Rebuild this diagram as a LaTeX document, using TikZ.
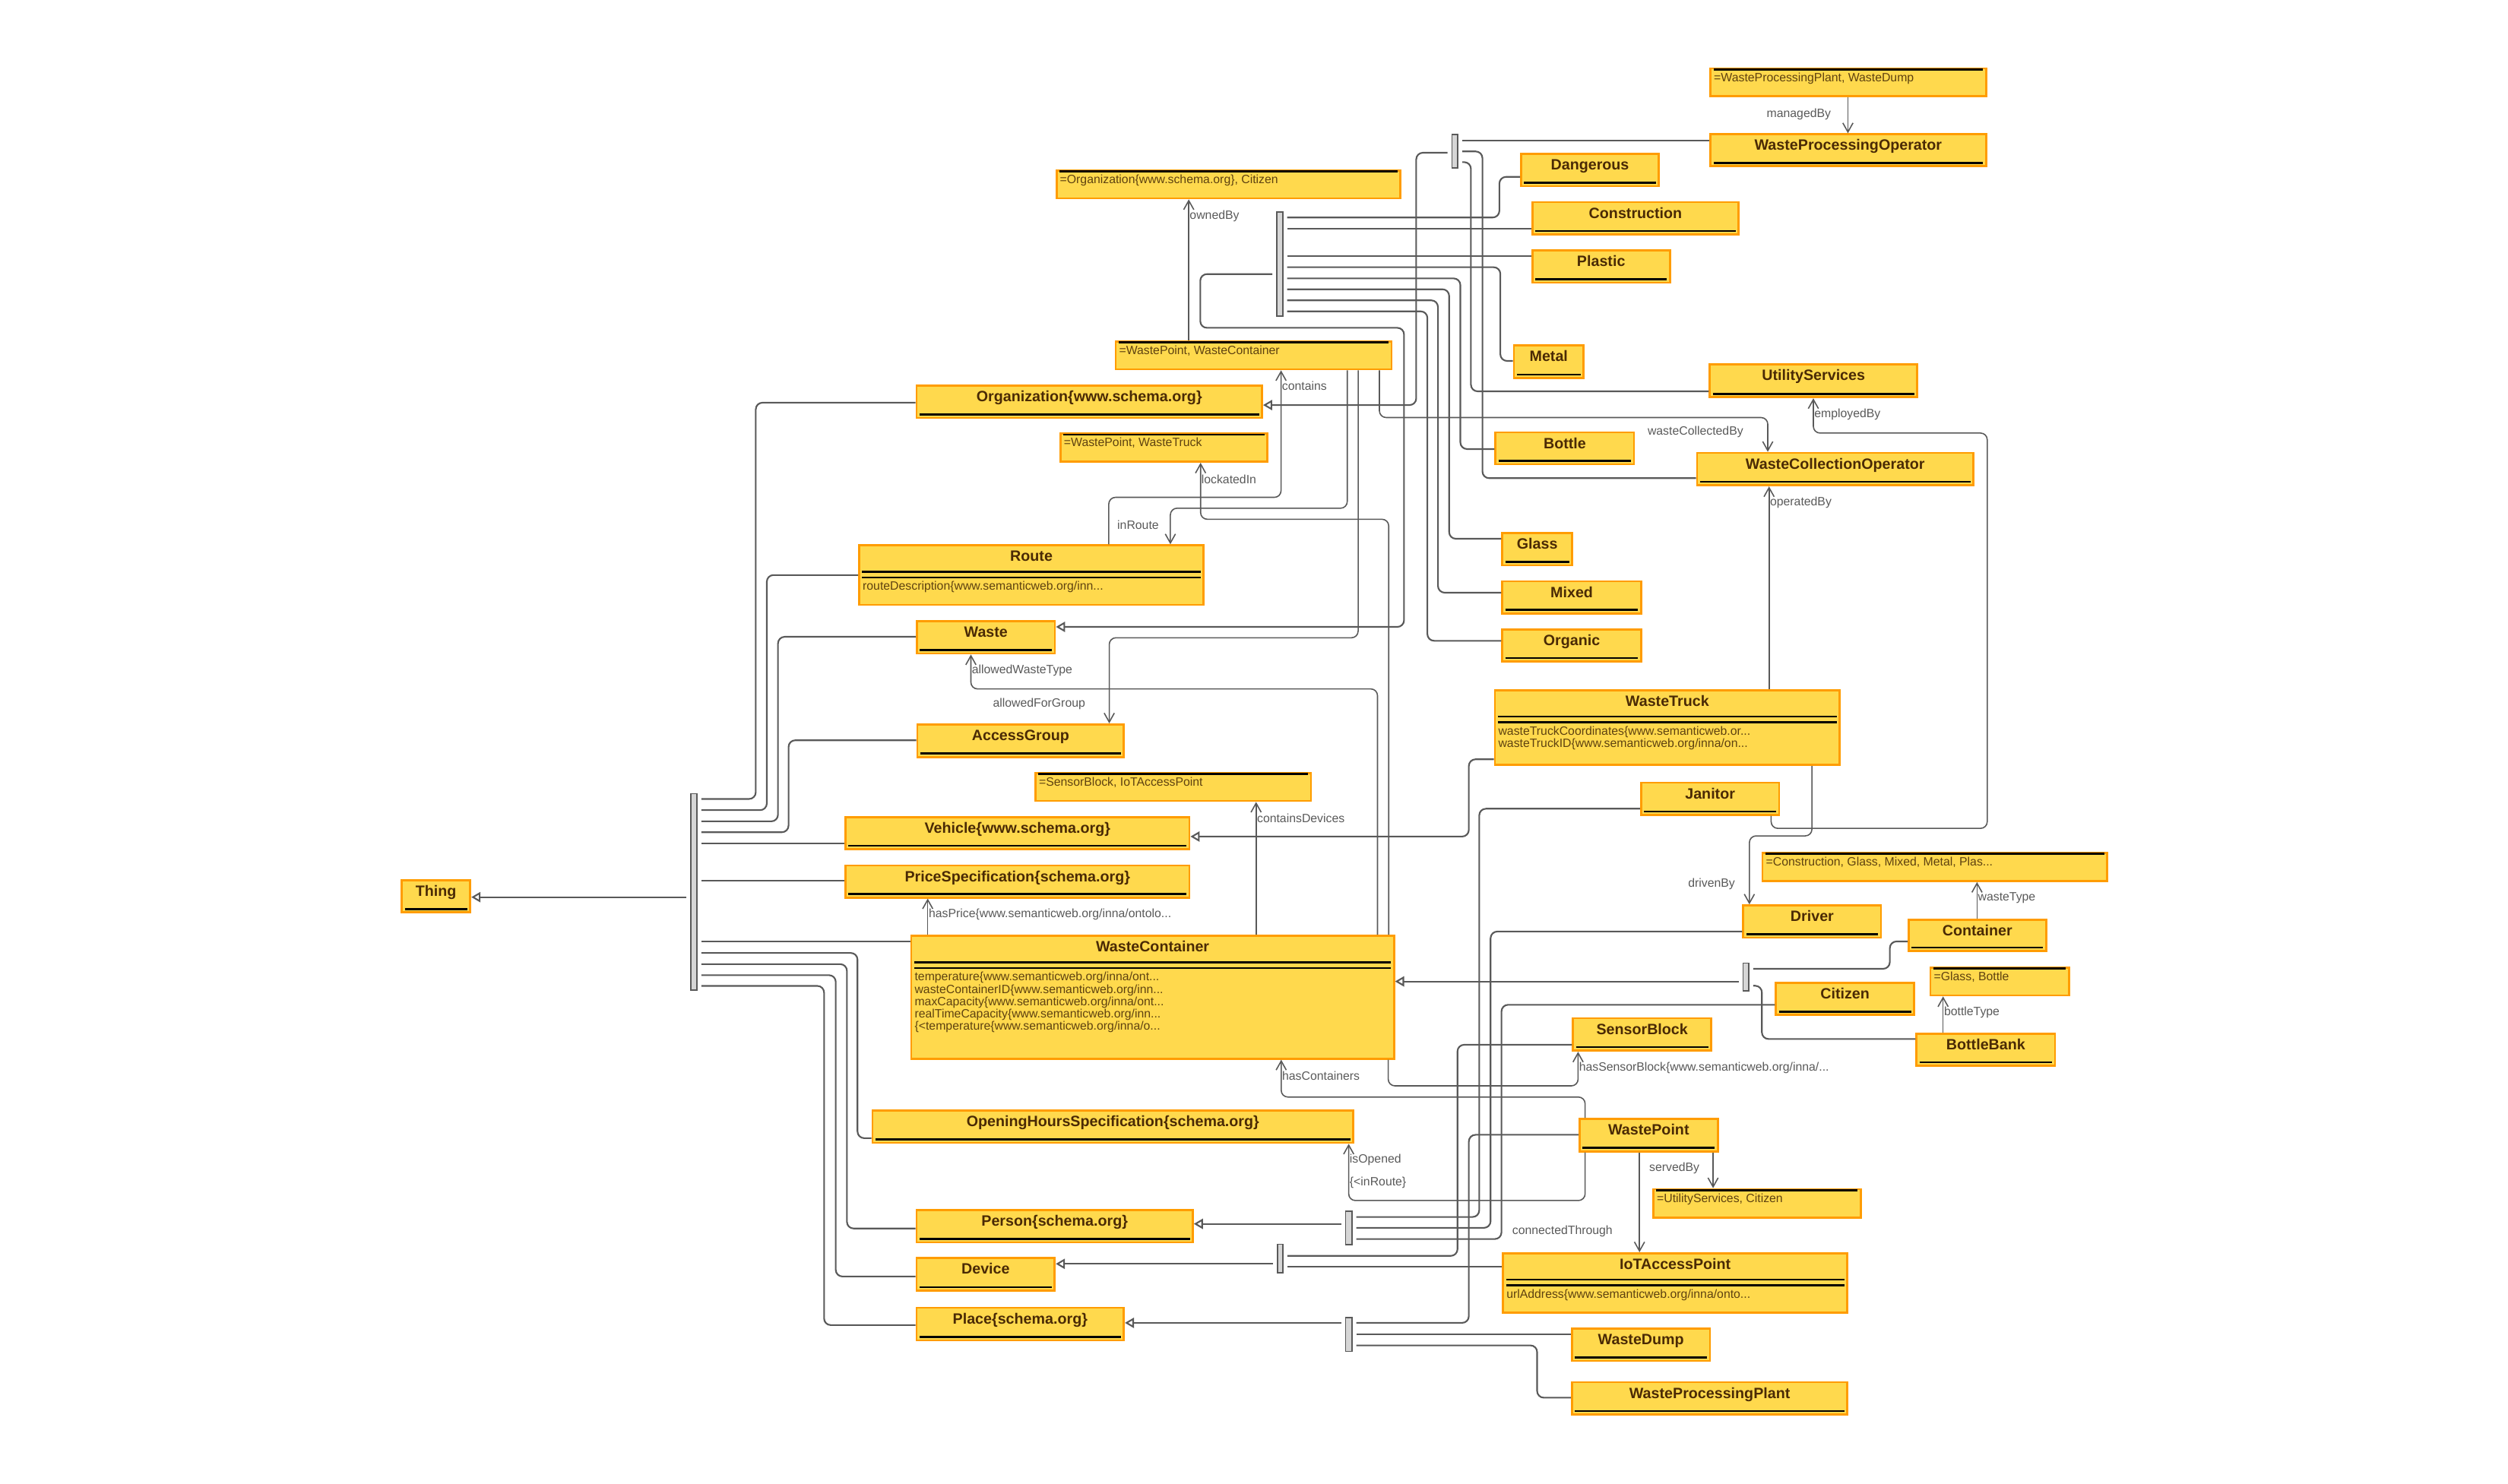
\documentclass[tikz,border=0pt]{standalone}
\usepackage{fontspec}
\setmainfont{Liberation Sans}
\usetikzlibrary{arrows.meta,calc,fit}
\definecolor{boxfill}{HTML}{FFD94D}
\definecolor{boxdraw}{HTML}{FF9C00}
\definecolor{namebrown}{HTML}{4A2A05}
\definecolor{attrbrown}{HTML}{5E4210}
\definecolor{linegray}{HTML}{595959}
\definecolor{bargray}{HTML}{D6D6D6}

\tikzset{
  clsbox/.style={draw=boxdraw, fill=boxfill, line width=0.8pt, inner sep=0pt},
  clsname/.style={font=\fontsize{5.6}{6}\selectfont\bfseries, text=namebrown, inner sep=0pt, anchor=base},
  attr/.style={font=\fontsize{4.5}{4.5}\selectfont, text=attrbrown, inner sep=0pt, anchor=base west},
  sepline/.style={draw=black, line width=0.7pt},
  genbar/.style={draw=linegray, fill=bargray, line width=0.5pt, inner sep=0pt},
  gen/.style={draw=linegray, line width=0.6pt, rounded corners=2.5pt, shorten <=0.05cm},
  isa/.style={gen, -{Triangle[length=3.4pt,width=3.8pt,fill=white]}},
  prop/.style={draw=linegray, line width=0.45pt, rounded corners=2.5pt, -{Straight Barb[length=3.4pt,width=3.8pt]}},
  lbl/.style={font=\fontsize{4.5}{4.5}\selectfont, text=linegray, inner sep=0pt},
}

% class with name only
\newcommand{\simpleclass}[4]{%
  \node[clsbox, fit={#2 #3}] (#1) {};
  \node[clsname] (#1-name) at ($(#1.north)+(0,10.7)$) {#4};
  \draw[sepline] ($(#1.south west)+(2.5,-2.8)$) -- ($(#1.south east)+(-2.5,-2.8)$);
}
% class with attributes
\newcommand{\attrclass}[4]{%
  \node[clsbox, fit={#2 #3}] (#1) {};
  \node[clsname] (#1-name) at ($(#1.north)+(0,10.7)$) {#4};
  \draw[sepline] ($(#1.north west)+(2.5,17.2)$) -- ($(#1.north east)+(-2.5,17.2)$);
  \draw[sepline] ($(#1.north west)+(2.5,20.7)$) -- ($(#1.north east)+(-2.5,20.7)$);
}
\newcommand{\attrline}[3]{%
  \node[attr] (#1-a#2) at ($(#1.north west)+(2.5,{28.8+7.7*(#2-1)})$) {#3};
}
% anonymous domain/range box
\newcommand{\rangebox}[4]{%
  \node[clsbox, fit={#2 #3}] (#1) {};
  \draw[sepline] ($(#1.north west)+(2.5,1.3)$) -- ($(#1.north east)+(-2.5,1.3)$);
  \node[attr] (#1-text) at ($(#1.north west)+(2.5,8.8)$) {#4};
}

\begin{document}
\begin{tikzpicture}[x=0.021046cm, y=-0.021046cm]
  \useasboundingbox (0,0) rectangle (1568,927.5);

  % boxes
  \rangebox{rngWPO}{(1069.4,42.8)}{(1241.6,60.2)}{=WasteProcessingPlant, WasteDump}
  \simpleclass{wpo}{(1069.4,84)}{(1241.6,104)}{WasteProcessingOperator}
  \rangebox{rngOrgCit}{(660.5,106.6)}{(875.6,124)}{=Organization\{www.schema.org\}, Citizen}
  \simpleclass{dangerous}{(951,96.3)}{(1037,116.4)}{Dangerous}
  \simpleclass{construction}{(958,126.4)}{(1087,146.5)}{Construction}
  \simpleclass{plastic}{(958,156.5)}{(1044,176.8)}{Plastic}
  \simpleclass{metal}{(946.5,215.8)}{(990,236.3)}{Metal}
  \simpleclass{utility}{(1069,228)}{(1198.6,248.4)}{UtilityServices}
  \rangebox{domWPWC}{(697.5,213.5)}{(870,230.9)}{=WastePoint, WasteContainer}
  \simpleclass{organization}{(573,241)}{(789,261.3)}{Organization\{www.schema.org\}}
  \rangebox{domWPWT}{(663,271.2)}{(792.4,288.7)}{=WastePoint, WasteTruck}
  \simpleclass{bottle}{(935,270.4)}{(1021.6,290.3)}{Bottle}
  \simpleclass{wco}{(1061,283.2)}{(1233.7,303.5)}{WasteCollectionOperator}
  \simpleclass{glass}{(939.3,333.4)}{(982.8,353.5)}{Glass}
  \simpleclass{mixed}{(939.3,363.5)}{(1026,383.5)}{Mixed}
  \simpleclass{organic}{(939.3,393.6)}{(1026,413.7)}{Organic}
  \attrclass{route}{(537.2,341)}{(752.4,378.2)}{Route}
  \attrline{route}{1}{routeDescription\{www.semanticweb.org/inn...}
  \simpleclass{waste}{(573.3,388.5)}{(659.5,408.6)}{Waste}
  \simpleclass{accessgroup}{(573.5,453)}{(702.6,473.3)}{AccessGroup}
  \attrclass{wastetruck}{(934.6,431.6)}{(1150.2,478.3)}{WasteTruck}
  \attrline{wastetruck}{1}{wasteTruckCoordinates\{www.semanticweb.or...}
  \attrline{wastetruck}{2}{wasteTruckID\{www.semanticweb.org/inna/on...}
  \rangebox{domSBIoT}{(647.4,483.4)}{(819.6,500.8)}{=SensorBlock, IoTAccessPoint}
  \simpleclass{janitor}{(1026,489.4)}{(1112.3,509.5)}{Janitor}
  \simpleclass{vehicle}{(528.6,511.1)}{(743.6,531.1)}{Vehicle\{www.schema.org\}}
  \rangebox{rngWasteTypes}{(1101.9,533.3)}{(1317.4,550.9)}{=Construction, Glass, Mixed, Metal, Plas...}
  \simpleclass{pricespec}{(528.6,541.2)}{(743.6,561.2)}{PriceSpecification\{schema.org\}}
  \simpleclass{thing}{(251.2,550.4)}{(294,570.6)}{Thing}
  \simpleclass{driver}{(1089.9,566.2)}{(1176,586.3)}{Driver}
  \simpleclass{container}{(1193.3,575)}{(1279.2,594.7)}{Container}
  \attrclass{wastecontainer}{(569.7,585.2)}{(871.5,662)}{WasteContainer}
  \attrline{wastecontainer}{1}{temperature\{www.semanticweb.org/inna/ont...}
  \attrline{wastecontainer}{2}{wasteContainerID\{www.semanticweb.org/inn...}
  \attrline{wastecontainer}{3}{maxCapacity\{www.semanticweb.org/inna/ont...}
  \attrline{wastecontainer}{4}{realTimeCapacity\{www.semanticweb.org/inn...}
  \attrline{wastecontainer}{5}{\{<temperature\{www.semanticweb.org/inna/o...}
  \rangebox{rngGlassBottle}{(1206.9,605)}{(1293.5,622.4)}{=Glass, Bottle}
  \simpleclass{citizen}{(1110.3,614.5)}{(1196.7,634.7)}{Citizen}
  \simpleclass{sensorblock}{(983.4,636.7)}{(1069.9,657)}{SensorBlock}
  \simpleclass{bottlebank}{(1198.2,646.5)}{(1284.8,666.5)}{BottleBank}
  \simpleclass{openinghours}{(545.5,694.5)}{(846,714.6)}{OpeningHoursSpecification\{schema.org\}}
  \simpleclass{wastepoint}{(987.6,699.7)}{(1073.9,719.9)}{WastePoint}
  \rangebox{rngUtilCit}{(1033.7,743.6)}{(1163.2,761.3)}{=UtilityServices, Citizen}
  \simpleclass{person}{(573,756.6)}{(745.7,776.9)}{Person\{schema.org\}}
  \attrclass{iot}{(939.7,783.7)}{(1154.9,820.7)}{IoTAccessPoint}
  \attrline{iot}{1}{urlAddress\{www.semanticweb.org/inna/onto...}
  \simpleclass{device}{(573,786.7)}{(659.4,807)}{Device}
  \simpleclass{place}{(573,817.7)}{(702.6,838.2)}{Place\{schema.org\}}
  \simpleclass{wastedump}{(982.8,830.7)}{(1069.1,851)}{WasteDump}
  \simpleclass{wpp}{(982.8,864.3)}{(1155,884.6)}{WasteProcessingPlant}

  % generalization bars
  \node[genbar, fit={(432,496.3) (435.7,619.2)}] (barThing) {};
  \node[genbar, fit={(798.3,132.4) (801.9,197.5)}] (barWaste) {};
  \node[genbar, fit={(907.8,84.2) (911.4,105)}] (barOrg) {};
  \node[genbar, fit={(1089.7,602.3) (1093.3,619.6)}] (barWC) {};
  \node[genbar, fit={(841.2,757.4) (845.1,778.4)}] (barPerson) {};
  \node[genbar, fit={(798.6,778.1) (802,795.9)}] (barDevice) {};
  \node[genbar, fit={(841.2,823.9) (845.1,845)}] (barPlace) {};

  % subclasses of Thing
  \draw[isa] (barThing.west |- 0,561) -- (thing.east |- 0,561);
  \draw[gen] (barThing.east |- 0,499.6) -- (472.5,499.6) |- (organization.west |- 0,251.8);
  \draw[gen] (barThing.east |- 0,506.6) -- (479.4,506.6) |- (route.west |- 0,359.6);
  \draw[gen] (barThing.east |- 0,513.6) -- (486.4,513.6) |- (waste.west |- 0,398.2);
  \draw[gen] (barThing.east |- 0,520.4) -- (493,520.4) |- (accessgroup.west |- 0,462.9);
  \draw[gen] (barThing.east |- 0,527.4) -- (vehicle.west |- 0,527.4);
  \draw[gen] (barThing.east |- 0,550.7) -- (pricespec.west |- 0,550.7);
  \draw[gen] (barThing.east |- 0,588.8) -- (wastecontainer.west |- 0,588.8);
  \draw[gen] (barThing.east |- 0,595.9) -- (536.1,595.9) |- (openinghours.west |- 0,711.7);
  \draw[gen] (barThing.east |- 0,602.9) -- (529.5,602.9) |- (person.west |- 0,768.2);
  \draw[gen] (barThing.east |- 0,609.8) -- (522.5,609.8) |- (device.west |- 0,798.2);
  \draw[gen] (barThing.east |- 0,616.5) -- (515.2,616.5) |- (place.west |- 0,828.6);

  % subclasses of Waste
  \draw[isa] (barWaste.west |- 0,171.4) -- (750.4,171.4) -- (750.4,205) -- (877.8,205) |- (waste.east |- 0,392);
  \draw[gen] (barWaste.east |- 0,136) -- (937.4,136) |- (dangerous.west |- 0,110.6);
  \draw[gen] (barWaste.east |- 0,143) -- (construction.west |- 0,143);
  \draw[gen] (barWaste.east |- 0,160.3) -- (plastic.west |- 0,160.3);
  \draw[gen] (barWaste.east |- 0,167.1) -- (938,167.1) |- (metal.west |- 0,225.7);
  \draw[gen] (barWaste.east |- 0,174.1) -- (913,174.1) |- (bottle.west |- 0,280.8);
  \draw[gen] (barWaste.east |- 0,180.9) -- (906,180.9) |- (glass.west |- 0,336.9);
  \draw[gen] (barWaste.east |- 0,187.8) -- (899,187.8) |- (mixed.west |- 0,370.6);
  \draw[gen] (barWaste.east |- 0,194.7) -- (892.4,194.7) |- (organic.west |- 0,400.7);

  % subclasses of Organization
  \draw[isa] (barOrg.west |- 0,95.5) -- (885.4,95.5) |- (organization.east |- 0,253.3);
  \draw[gen] (barOrg.east |- 0,87.8) -- (wpo.west |- 0,87.8);
  \draw[gen] (barOrg.east |- 0,94.7) -- (926.8,94.7) |- (wco.west |- 0,299);
  \draw[gen] (barOrg.east |- 0,101.4) -- (919.6,101.4) |- (utility.west |- 0,244.7);

  % subclasses of WasteContainer
  \draw[isa] (barWC.west |- 0,613.7) -- (wastecontainer.east |- 0,613.7);
  \draw[gen] (barWC.east |- 0,605.8) -- (1181.5,605.8) |- (container.west |- 0,588.7);
  \draw[gen] (barWC.east |- 0,616.4) -- (1101.5,616.4) |- (bottlebank.west |- 0,649.7);

  % subclasses of Person
  \draw[isa] (barPerson.west |- 0,765.3) -- (person.east |- 0,765.3);
  \draw[gen] (barPerson.east |- 0,761) -- (924.8,761) |- (janitor.west |- 0,505.7);
  \draw[gen] (barPerson.east |- 0,767.8) -- (931.9,767.8) |- (driver.west |- 0,582.5);
  \draw[gen] (barPerson.east |- 0,774.8) -- (938.7,774.8) |- (citizen.west |- 0,628.3);

  % subclasses of Device
  \draw[isa] (barDevice.west |- 0,790.3) -- (device.east |- 0,790.3);
  \draw[gen] (barDevice.east |- 0,785.3) -- (911.2,785.3) |- (sensorblock.west |- 0,653.3);
  \draw[gen] (barDevice.east |- 0,792.1) -- (iot.west |- 0,792.1);

  % subclasses of Place
  \draw[isa] (barPlace.west |- 0,827.2) -- (place.east |- 0,827.2);
  \draw[gen] (barPlace.east |- 0,827.2) -- (918.3,827.2) |- (wastepoint.west |- 0,709.6);
  \draw[gen] (barPlace.east |- 0,834.4) -- (wastedump.west |- 0,834.4);
  \draw[gen] (barPlace.east |- 0,841.3) -- (961,841.3) |- (wpp.west |- 0,874);

  % WasteTruck is a Vehicle
  \draw[isa, shorten <=0pt] (wastetruck.west |- 0,474.8) -- (918.3,474.8) |- (vehicle.east |- 0,523.1);

  % object properties
  \draw[prop] (rngWPO.south -| 1155.3,0) -- (wpo.north -| 1155.3,0);
  \draw[prop] (domWPWC.north -| 743.2,0) -- (rngOrgCit.south -| 743.2,0);
  \draw[prop] (route.north -| 693.2,0) |- (800.9,311) -- (domWPWC.south -| 800.9,0);
  \draw[prop] (domWPWC.south -| 842.3,0) |- (731.7,317.8) -- (route.north -| 731.7,0);
  \draw[prop] (domWPWC.south -| 862.4,0) |- (1105.2,261.1) -- (wco.north -| 1105.2,0);
  \draw[prop] (domWPWC.south -| 849.1,0) |- (693.5,398.8) -- (accessgroup.north -| 693.5,0);
  \draw[prop] (wastecontainer.north -| 868.2,0) |- (750.6,324.7) -- (domWPWT.south -| 750.6,0);
  \draw[prop] (wastecontainer.north -| 861.2,0) |- (607,430.8) -- (waste.south -| 607,0);
  \draw[prop] (wastecontainer.north -| 785.3,0) -- (domSBIoT.south -| 785.3,0);
  \draw[prop] (wastecontainer.north -| 580,0) -- (pricespec.south -| 580,0);
  \draw[prop] (wastetruck.north -| 1106,0) -- (wco.south -| 1106,0);
  \draw[prop] (janitor.south -| 1107.3,0) |- (1242.4,518) |- (1133.7,270.8) -- (utility.south -| 1133.7,0);
  \draw[prop] (wastetruck.south -| 1132.8,0) |- (1093.7,522.7) -- (driver.north -| 1093.7,0);
  \draw[prop] (container.north -| 1236,0) -- (rngWasteTypes.south -| 1236,0);
  \draw[prop] (bottlebank.north -| 1214.8,0) -- (rngGlassBottle.south -| 1214.8,0);
  \draw[prop] (wastecontainer.south -| 867.9,0) |- (986.6,679) -- (sensorblock.south -| 986.6,0);
  \draw[prop] (wastepoint.north -| 991,0) |- (801,686) -- (wastecontainer.south -| 801,0);
  \draw[prop] (wastepoint.south -| 991,0) |- (843.2,750.7) -- (openinghours.south -| 843.2,0);
  \draw[prop] (wastepoint.south -| 1071,0) -- (rngUtilCit.north -| 1071,0);
  \draw[prop] (wastepoint.south -| 1025,0) -- (iot.north -| 1025,0);

  % property labels
  \node[lbl, anchor=east] (lbl-managedBy) at (1145,71.3) {managedBy};
  \node[lbl, anchor=west] (lbl-ownedBy) at (743.5,135) {ownedBy};
  \node[lbl, anchor=west] (lbl-contains) at (801.2,241.5) {contains};
  \node[lbl, anchor=east] (lbl-inRoute) at (724.8,328.2) {inRoute};
  \node[lbl, anchor=east] (lbl-wasteCollectedBy) at (1090.2,270) {wasteCollectedBy};
  \node[lbl, anchor=west] (lbl-employedBy) at (1134,259.3) {employedBy};
  \node[lbl, anchor=west] (lbl-lockatedIn) at (750.8,299.7) {lockatedIn};
  \node[lbl, anchor=west] (lbl-operatedBy) at (1106.3,314.4) {operatedBy};
  \node[lbl, anchor=west] (lbl-allowedWasteType) at (607.3,419.4) {allowedWasteType};
  \node[lbl, anchor=east] (lbl-allowedForGroup) at (678.8,440.3) {allowedForGroup};
  \node[lbl, anchor=west] (lbl-containsDevices) at (785.6,511.6) {containsDevices};
  \node[lbl, anchor=east] (lbl-drivenBy) at (1085,552.8) {drivenBy};
  \node[lbl, anchor=west] (lbl-wasteType) at (1236.3,561.5) {wasteType};
  \node[lbl, anchor=west] (lbl-hasPrice) at (580.3,571.8) {hasPrice\{www.semanticweb.org/inna/ontolo...};
  \node[lbl, anchor=west] (lbl-bottleType) at (1215.1,633.1) {bottleType};
  \node[lbl, anchor=west] (lbl-hasSensorBlock) at (986.9,668) {hasSensorBlock\{www.semanticweb.org/inna/...};
  \node[lbl, anchor=west] (lbl-hasContainers) at (801.3,672.8) {hasContainers};
  \node[lbl, anchor=west] (lbl-isOpened) at (843.5,725.4) {isOpened};
  \node[lbl, anchor=west] (lbl-notInRoute) at (843.5,739.3) {\{<inRoute\}};
  \node[lbl, anchor=east] (lbl-servedBy) at (1062.8,730.6) {servedBy};
  \node[lbl, anchor=east] (lbl-connectedThrough) at (1008.5,770.1) {connectedThrough};
\end{tikzpicture}
\end{document}
